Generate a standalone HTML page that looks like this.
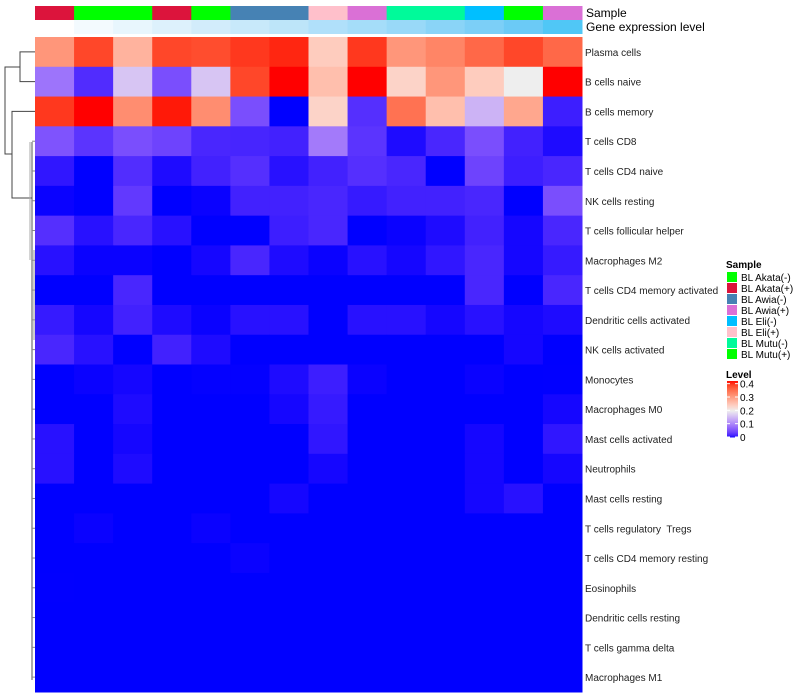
<!DOCTYPE html>
<html><head><meta charset="utf-8">
<style>
body{margin:0;background:#fff;}
svg{display:block;font-family:"Liberation Sans",sans-serif;}
</style></head>
<body>
<svg id="chart" width="800" height="700"></svg>
<script>
const rowLabels=["Plasma cells","B cells naive","B cells memory","T cells CD8","T cells CD4 naive","NK cells resting","T cells follicular helper","Macrophages M2","T cells CD4 memory activated","Dendritic cells activated","NK cells activated","Monocytes","Macrophages M0","Mast cells activated","Neutrophils","Mast cells resting","T cells regulatory  Tregs","T cells CD4 memory resting","Eosinophils","Dendritic cells resting","T cells gamma delta","Macrophages M1"];
const sampleCols=["#DC143C","#00FF00","#00FF00","#DC143C","#00FF00","#4682B4","#4682B4","#FFC0CB","#DA70D6","#00FA9A","#00FA9A","#00BFFF","#00FF00","#DA70D6"];
const geneCols=["#ffffff","#f3fafe","#e8f6fd","#ddf1fc","#d2ecfb","#c8e9fa","#bde5f9","#b0e0fa","#a5ddf9","#99d9f8","#8ad4f7","#7ccff7","#6bcaf6","#50c7f6"];
const values=[
[0.31,0.39,0.275,0.39,0.385,0.40,0.41,0.244,0.40,0.31,0.33,0.36,0.39,0.36],
[0.085,0.022,0.162,0.05,0.162,0.39,0.42,0.26,0.42,0.235,0.31,0.244,0.20,0.42],
[0.40,0.42,0.32,0.415,0.32,0.05,0,0.235,0.0245,0.35,0.26,0.145,0.29,0.0125],
[0.055,0.028,0.05,0.0405,0.018,0.0168,0.0146,0.091,0.028,0.0036,0.018,0.05,0.0146,0.0036],
[0.008,0,0.0224,0.0036,0.0146,0.0245,0.0058,0.0146,0.0245,0.018,0,0.0405,0.0125,0.018],
[0.0008,0,0.032,0,0.0008,0.0146,0.0146,0.018,0.0101,0.0146,0.0146,0.018,0,0.05],
[0.0245,0.0058,0.018,0.0058,0,0,0.0125,0.018,0,0.0008,0.0036,0.0146,0.002,0.018],
[0.0058,0.0008,0.0008,0,0.002,0.018,0.0036,0.0008,0.0058,0.002,0.008,0.018,0.002,0.0101],
[0,0,0.018,0,0,0,0,0,0,0,0,0.018,0,0.018],
[0.0101,0.002,0.0146,0.0036,0.0008,0.0058,0.0058,0,0.0058,0.0058,0.002,0.0058,0.002,0.0036],
[0.018,0.0058,0,0.0146,0.0036,0,0,0,0,0,0,0,0.002,0],
[0,0.0008,0.002,0,0.0003,0.0003,0.0036,0.0125,0.0008,0,0,0.0008,0,0.0001],
[0,0,0.0036,0,0,0,0.002,0.0101,0,0,0,0,0,0.002],
[0.0058,0,0.002,0,0,0,0,0.008,0,0,0,0.002,0,0.008],
[0.0058,0,0.0036,0,0,0,0,0.002,0,0,0,0.002,0,0.002],
[0,0,0,0,0,0,0.002,0,0,0,0,0.002,0.0058,0],
[0,0.0008,0,0,0.0008,0,0,0,0,0,0,0,0,0],
[0,0,0,0,0,0.0008,0,0,0,0,0,0,0,0],
[0.0001,0,0,0,0,0,0,0,0,0,0,0,0,0],
[0,0,0,0,0,0,0,0,0,0,0,0,0,0],
[0,0,0,0,0,0,0,0,0,0,0,0,0,0],
[0,0,0,0,0,0,0,0,0,0,0,0,0,0]];
const legendNames=["BL Akata(-)","BL Akata(+)","BL Awia(-)","BL Awia(+)","BL Eli(-)","BL Eli(+)","BL Mutu(-)","BL Mutu(+)"];
const legendCols=["#00FF00","#DC143C","#4682B4","#DA70D6","#00BFFF","#FFC0CB","#00FA9A","#00FF00"];
const levelTicks=[0,0.1,0.2,0.3,0.4];

const NS="http://www.w3.org/2000/svg";
const svg=document.getElementById('chart');
function mk(t,a,p){const e=document.createElementNS(NS,t);for(const k in a)e.setAttribute(k,a[k]);(p||svg).appendChild(e);return e;}
const X0=35,X1=582,Y0=37,Y1=692;
const cw=(X1-X0)/sampleCols.length, rh=(Y1-Y0)/rowLabels.length;
const xs=i=>X0+i*cw, ys=j=>Y0+j*rh;
function toLin(c){c/=255;return c<=0.04045?c/12.92:Math.pow((c+0.055)/1.055,2.4);}
function fromLin(c){const v=c<=0.0031308?12.92*c:1.055*Math.pow(c,1/2.4)-0.055;return Math.max(0,Math.min(255,Math.round(v*255)));}
function rgb2lab(r,g,b){r=toLin(r);g=toLin(g);b=toLin(b);
 let x=(0.4124*r+0.3576*g+0.1805*b)/0.95047,y=0.2126*r+0.7152*g+0.0722*b,z=(0.0193*r+0.1192*g+0.9505*b)/1.08883;
 const f=t=>t>0.008856?Math.cbrt(t):7.787*t+16/116;
 const fx=f(x),fy=f(y),fz=f(z);return [116*fy-16,500*(fx-fy),200*(fy-fz)];}
function lab2rgb(L,a,bb){const fy=(L+16)/116,fx=fy+a/500,fz=fy-bb/200;
 const fi=t=>t*t*t>0.008856?t*t*t:(t-16/116)/7.787;
 const x=fi(fx)*0.95047,y=fi(fy),z=fi(fz)*1.08883;
 const r=3.2406*x-1.5372*y-0.4986*z,g=-0.9689*x+1.8758*y+0.0415*z,b=0.0557*x-0.2040*y+1.0570*z;
 return [fromLin(r),fromLin(g),fromLin(b)];}
const LB=rgb2lab(0,0,255),LM=rgb2lab(238,238,238),LR=rgb2lab(255,0,0);
function color(v){
  let A,B,t;
  if(v<=0.2){A=LB;B=LM;t=Math.max(0,v/0.2);}else{A=LM;B=LR;t=Math.min(1,(v-0.2)/0.22);}
  const c=lab2rgb(A[0]+(B[0]-A[0])*t,A[1]+(B[1]-A[1])*t,A[2]+(B[2]-A[2])*t);
  return `rgb(${c[0]},${c[1]},${c[2]})`;
}
sampleCols.forEach((c,i)=>{const r=mk('rect',{x:xs(i),y:6,width:cw+0.5,height:14,fill:c});

});
geneCols.forEach((c,i)=>{const r=mk('rect',{x:xs(i),y:20,width:cw+0.5,height:14,fill:c});

});
let t=mk('text',{x:586,y:17,'font-size':12,fill:'#000'});t.textContent='Sample';


t=mk('text',{x:586,y:31,'font-size':12,fill:'#000'});t.textContent='Gene expression level';


values.forEach((row,j)=>row.forEach((v,i)=>{
  const r=mk('rect',{x:xs(i),y:ys(j),width:cw+0.5,height:rh+0.5,fill:color(v)});
  
  
}));
rowLabels.forEach((l,j)=>{
  const e=mk('text',{x:585,y:ys(j)+rh/2+4,'font-size':10,fill:'#222',style:'white-space:pre'});e.textContent=l;
  
  
});
const dg=mk('g',{stroke:'#444','stroke-width':1,fill:'none'});


const cy=j=>ys(j)+rh/2;
function L(pts,c){mk('polyline',{points:pts.map(p=>p.join(',')).join(' '),stroke:c||'#444'},dg);}
L([[35,cy(0)],[20,cy(0)],[20,cy(1)],[35,cy(1)]]);
L([[20,67],[5,67],[5,154],[12,154]]);
L([[35,cy(2)],[12,cy(2)],[12,198],[32,198]]);
L([[32,142],[32,680]],'#555');
for(let j=3;j<rowLabels.length;j++){L([[32,cy(j)],[35,cy(j)]],'#888');}
L([[30,142],[30,260]],'#aaa');L([[34,250],[34,340]],'#999');
const lg=mk('g',{});


t=mk('text',{x:726,y:268,'font-size':10,'font-weight':'bold'},lg);t.textContent='Sample';
legendNames.forEach((n,k)=>{
  const r=mk('rect',{x:727,y:272+k*11,width:10,height:10,fill:legendCols[k]},lg);
  
  
  const e=mk('text',{x:741,y:281+k*11,'font-size':10},lg);e.textContent=n;
  
  
});
const cg=mk('g',{});


t=mk('text',{x:726,y:378,'font-size':10,'font-weight':'bold'},cg);t.textContent='Level';
const B0=437,BT=381,vmax=0.42;
const vy=v=>B0-(v/vmax)*(B0-BT);
for(let k=0;k<56;k++){const v0=vmax*k/56,v1=vmax*(k+1)/56;
  mk('rect',{x:727,y:vy(v1),width:11,height:vy(v0)-vy(v1)+0.5,fill:color((v0+v1)/2)},cg);}
levelTicks.forEach(v=>{
  mk('line',{x1:727,x2:730,y1:vy(v),y2:vy(v),stroke:'#fff'},cg);
  mk('line',{x1:735,x2:738,y1:vy(v),y2:vy(v),stroke:'#fff'},cg);
  const e=mk('text',{x:740,y:vy(v)+4,'font-size':10},cg);e.textContent=String(v);
  
  
});
</script>
</body></html>
